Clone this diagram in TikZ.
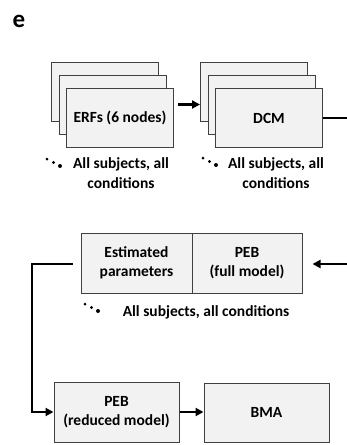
\documentclass[tikz,border=0pt]{standalone}
\usepackage{fontspec}
\setmainfont{Carlito}
\usepackage{tikz}
\usetikzlibrary{arrows.meta, positioning, calc}
\definecolor{boxfill}{RGB}{242,242,242}
\definecolor{boxline}{RGB}{64,64,64}
\tikzset{
  card/.style={rectangle, draw=boxline, fill=boxfill, line width=1pt,
    minimum width=107pt, minimum height=59pt, align=center,
    font=\bfseries\fontsize{15.5}{19}\selectfont, inner sep=0pt},
  note/.style={align=center, font=\bfseries\fontsize{15.5}{20}\selectfont, inner sep=0pt},
  arrow/.style={-{Triangle[length=8pt,width=8pt]}, line width=2.2pt, color=black},
  line/.style={line width=2.2pt, color=black}
}
\newcommand{\subjdots}[1]{%
  \foreach \dx/\dy/\r in {0/0/1.5, 6.5/3.5/1.7, 13/7/2}
    \fill[black] ($(#1)+(\dx,\dy)$) circle[radius=\r pt];}
\begin{document}
\begin{tikzpicture}[x=1pt, y=-1pt]
  \useasboundingbox (0,0) rectangle (347,445);
  \node[font=\bfseries\fontsize{25}{30}\selectfont] (lbl) at (19,21) {e};

  % stacked ERFs
  \node[card] (erf3) at (105,91.5) {};
  \node[card] (erf2) at (112.5,104.5) {};
  \node[card] (erf1) at (120,118) {ERFs (6 nodes)};
  % stacked DCMs
  \node[card] (dcm3) at (254,91.5) {};
  \node[card] (dcm2) at (261.5,104.5) {};
  \node[card] (dcm1) at (269,118) {DCM};

  \node[note] (n1) at (121,173) {All subjects, all\\conditions};
  \node[note] (n2) at (276,173) {All subjects, all\\conditions};
  \coordinate (d1) at (47,159);
  \coordinate (d2) at (203,158);
  \subjdots{d1}
  \subjdots{d2}

  % PEB full model
  \node[card, minimum width=111pt, minimum height=60pt] (est) at (136.5,263) {Estimated\\parameters};
  \node[card, minimum width=110pt, minimum height=60pt] (pebf) at (247,263) {PEB\\(full model)};
  \node[note] (n3) at (206,312) {All subjects, all conditions};
  \coordinate (d3) at (85,304);
  \subjdots{d3}

  % reduced model and BMA
  \node[card, minimum width=125pt, minimum height=60pt] (pebr) at (116.5,412) {PEB\\(reduced model)};
  \node[card, minimum width=125pt, minimum height=59pt] (bma) at (266.5,412.5) {BMA};

  % connectors
  \coordinate (out) at (347,118);
  \coordinate (in) at (347,264);
  \draw[arrow] ([xshift=4pt]erf1.east |- erf2.east) -- (dcm3.west |- erf2.east);
  \draw[line] (dcm1.east) -- (out);
  \draw[arrow] (in) -- ([xshift=10pt]pebf.east |- in);
  \draw[arrow] ([xshift=-8pt]est.west |- in) -| (32,412) -- (pebr.west);
  \draw[arrow] (pebr.east) -- (bma.west |- pebr.east);
\end{tikzpicture}
\end{document}
